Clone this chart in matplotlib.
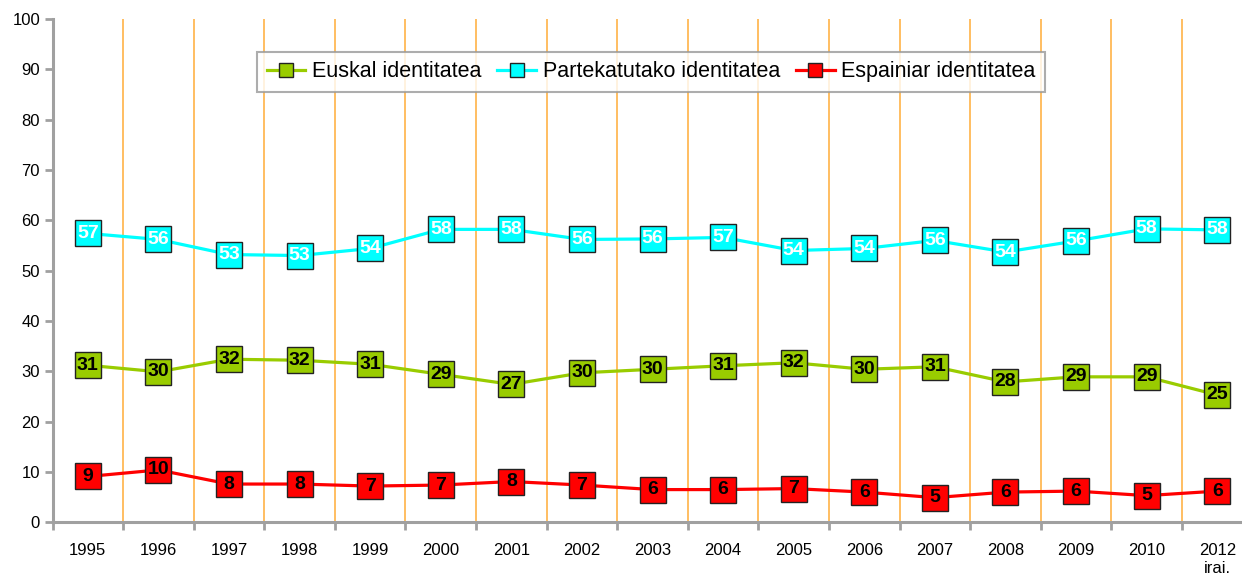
import matplotlib.pyplot as plt
from matplotlib.lines import Line2D

plt.rcParams['font.family'] = ['Liberation Sans', 'DejaVu Sans']

# Data
years = ['1995', '1996', '1997', '1998', '1999', '2000', '2001', '2002', '2003',
         '2004', '2005', '2006', '2007', '2008', '2009', '2010', '2012\nirai.']
euskal = [31.2, 29.9, 32.4, 32.2, 31.4, 29.4, 27.4, 29.7, 30.4, 31.1, 31.7,
          30.4, 30.9, 27.9, 28.9, 28.9, 25.3]
partekatu = [57.4, 56.2, 53.2, 53.0, 54.4, 58.2, 58.2, 56.2, 56.3, 56.6, 54.0,
             54.4, 56.0, 53.7, 55.9, 58.3, 58.1]
espainiar = [9.1, 10.4, 7.6, 7.6, 7.2, 7.4, 8.1, 7.4, 6.5, 6.5, 6.7,
             6.0, 4.9, 6.0, 6.2, 5.3, 6.2]
names = ['Euskal identitatea', 'Partekatutako identitatea', 'Espainiar identitatea']

series = [(euskal, '#99CC00', 'black'),
          (partekatu, '#00FFFF', 'white'),
          (espainiar, '#FF0000', 'black')]

fig = plt.figure(figsize=(12.42, 5.77), dpi=100)
ax = fig.add_axes([0.0423, 0.0948, 0.9662, 0.8723])

x = list(range(len(years)))

# orange separators between the years
for b in range(len(years)):
    ax.axvline(b + 0.5, color='#FFB347', lw=1.2, zorder=1)

handles = []
for (vals, col, tcol), name in zip(series, names):
    ax.plot(x, vals, color=col, lw=2.3, zorder=2)
    ax.plot(x, vals, ls='none', marker='s', markersize=18.5, markerfacecolor=col,
            markeredgecolor='#222222', markeredgewidth=1.0, zorder=3)
    for xi, v in zip(x, vals):
        ax.text(xi, v, f'{round(v)}', ha='center', va='center', fontsize=14,
                fontweight='bold', color=tcol, zorder=4)
    handles.append(Line2D([], [], color=col, lw=2.3, marker='s', markersize=9.5,
                          markerfacecolor=col, markeredgecolor='#222222',
                          markeredgewidth=1.0))

ax.set_xlim(-0.5, len(years) - 0.5)
ax.set_ylim(0, 100)
ax.set_yticks(range(0, 101, 10))

ax.set_xticks([b - 0.5 for b in range(len(years) + 1)])
ax.set_xticklabels([])
ax.set_xticks(x, minor=True)
ax.set_xticklabels(years, minor=True, fontsize=12)
ax.tick_params(axis='x', which='minor', length=0, pad=15)
ax.tick_params(axis='x', which='major', length=6, width=2, color='#A0A0A0')
ax.tick_params(axis='y', length=6, width=2, color='#A0A0A0', labelsize=12, pad=3)

for s in ['top', 'right']:
    ax.spines[s].set_visible(False)
for s in ['left', 'bottom']:
    ax.spines[s].set_color('#A0A0A0')
    ax.spines[s].set_linewidth(2.2)

leg = ax.legend(handles, names, loc='center', bbox_to_anchor=(0.4988, 0.8947),
                ncol=3, fontsize=15.5, frameon=True, fancybox=False,
                handlelength=1.8, handletextpad=0.3, columnspacing=0.75,
                borderpad=0.45)
leg.get_frame().set_edgecolor('#999999')
leg.get_frame().set_linewidth(1.5)
leg.set_zorder(5)

fig.savefig('out.png', dpi=100)
